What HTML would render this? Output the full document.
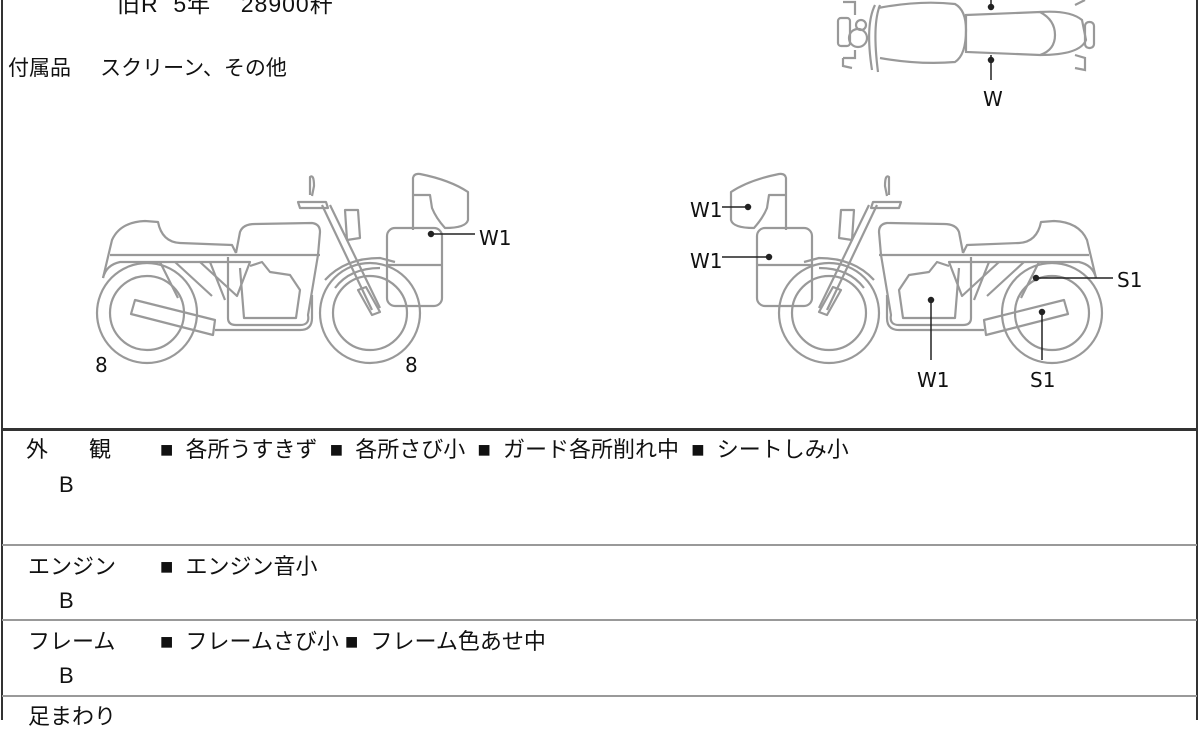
<!DOCTYPE html>
<html><head><meta charset="utf-8"><style>
html,body{margin:0;padding:0;background:#fff;}
body{width:1200px;height:720px;overflow:hidden;position:relative;font-family:"Liberation Sans","Noto Sans CJK JP",sans-serif;color:#111;}
.t{position:absolute;font-size:21px;white-space:nowrap;line-height:1;}
.c{font-size:22px;}
.hl{position:absolute;left:2px;width:1195px;background:#999;height:2px;}
</style></head><body>
<div style="position:absolute;left:1px;top:0;width:2px;height:720px;background:#333"></div>
<div style="position:absolute;left:1196px;top:0;width:2px;height:720px;background:#333"></div>
<div class="hl" style="top:428px;height:3px;background:#333"></div>
<div class="hl" style="top:544px"></div>
<div class="hl" style="top:619px"></div>
<div class="hl" style="top:695px"></div>

<div class="t" style="left:117px;top:-7px;font-size:23px;letter-spacing:1px">旧R&nbsp; 5年&nbsp;&nbsp;&nbsp; 28900粁</div>
<div class="t" style="left:8px;top:58px">付属品&nbsp;&nbsp;&nbsp;&nbsp; スクリーン、その他</div>

<svg width="1200" height="720" style="position:absolute;left:0;top:0" xmlns="http://www.w3.org/2000/svg">
<defs>
<g id="bike" fill="none" stroke="#999" stroke-width="2.2" stroke-linejoin="round">
 <circle cx="147" cy="313" r="50"/><circle cx="147" cy="313" r="37"/>
 <circle cx="370" cy="313" r="50"/><circle cx="370" cy="313" r="37"/>
 <path d="M103 278 L112 240 Q120 222 145 221 L158 222 Q162 242 180 243 L232 245 L236 253"/>
 <path d="M110 255 L320 255"/>
 <path d="M103 278 Q106 265 120 262 L200 262"/>
 <path d="M236 253 L240 232 Q243 224 255 224 L312 223 Q320 224 320 232 L318 255"/>
 <path d="M160 262 L178 298 M175 262 L212 296 M210 262 L225 300 M228 257 L228 318 Q228 325 236 325 L300 325 Q310 325 308 315 L318 255"/>
 <path d="M200 262 L250 262 L237 296 Z"/>
 <path d="M240 268 L244 318 L296 318 L300 290 L290 275 L270 272 L262 262 L250 266"/>
 <path d="M135 300 L215 320 L213 335 L131 314 Z"/>
 <path d="M215 330 L300 330 Q312 330 312 318 L312 295"/>
 <path d="M322 205 L372 310 M330 205 L380 308"/>
 <path d="M358 290 L372 315 L380 312 L366 287 Z"/>
 <path d="M345 210 L358 210 L360 238 L347 240 Z"/>
 <path d="M298 202 L326 202 L328 208 L300 208 Z"/>
 <path d="M310 195 L310 177 Q314 174 314 186 L312 196"/>
 <path d="M325 280 Q345 258 380 258 L395 262 M335 288 Q350 268 380 268"/>
 <rect x="387" y="228" width="55" height="78" rx="8"/>
 <path d="M387 265 L442 265"/>
 <path d="M413 230 L413 178 Q414 173 420 174 Q450 180 468 192 L468 220 Q466 228 445 228 Q436 218 432 208 L430 195 L413 195"/>
</g>
</defs>
<use href="#bike"/>
<use href="#bike" transform="translate(1199,0) scale(-1,1)"/>

<g fill="none" stroke="#999" stroke-width="2.2">
 <path d="M875 5 Q865 25 872 70"/>
 <path d="M880 5 Q872 25 878 72"/>
 <path d="M878 8 Q920 0 955 4 Q966 10 966 30 Q966 55 955 62 Q920 65 880 58"/>
 <path d="M966 15 L1040 12 Q1055 20 1055 35 Q1055 50 1040 55 L966 52 Z"/>
 <path d="M1040 12 Q1070 10 1082 20 L1086 40 Q1080 55 1040 55"/>
 <rect x="1085" y="22" width="9" height="26" rx="4"/>
 <rect x="838" y="18" width="12" height="28" rx="3"/>
 <circle cx="858" cy="38" r="9"/><circle cx="861" cy="25" r="5"/>
 <path d="M843 2 L855 2 L855 15 M843 58 L855 58 L855 50 M843 58 L843 66 L852 68"/>
 <path d="M1075 55 L1085 58 L1085 70 L1075 68 M1075 5 L1085 0"/>
</g>
<g stroke="#222" stroke-width="1.5" fill="#222">
 <line x1="991" y1="55" x2="991" y2="80"/><circle cx="991" cy="60" r="2.5"/><circle cx="991" cy="7" r="2.5"/><line x1="991" y1="0" x2="991" y2="10"/>
 <line x1="430" y1="234" x2="475" y2="234"/><circle cx="431" cy="234" r="2.5"/>
 <line x1="722" y1="207" x2="748" y2="207"/><circle cx="748" cy="207" r="2.5"/>
 <line x1="722" y1="257" x2="769" y2="257"/><circle cx="769" cy="257" r="2.5"/>
 <line x1="1036" y1="278" x2="1113" y2="278"/><circle cx="1036" cy="278" r="2.5"/>
 <line x1="1042" y1="312" x2="1042" y2="360"/><circle cx="1042" cy="312" r="2.5"/>
 <line x1="931" y1="300" x2="931" y2="360"/><circle cx="931" cy="300" r="2.5"/>
</g>
<g font-family="DejaVu Sans, Liberation Sans, sans-serif" font-size="20" fill="#111">
 <text x="983" y="106">W</text>
 <text x="479" y="245">W1</text>
 <text x="690" y="217">W1</text>
 <text x="690" y="268">W1</text>
 <text x="1117" y="287">S1</text>
 <text x="1030" y="387">S1</text>
 <text x="917" y="387">W1</text>
 <text x="95" y="372">8</text>
 <text x="405" y="372">8</text>
</g>
</svg>

<div class="t c" style="left:26px;top:439px">外</div>
<div class="t c" style="left:89px;top:439px">観</div>
<div class="t c" style="left:160px;top:439px">■&nbsp; 各所うすきず&nbsp; ■&nbsp; 各所さび小&nbsp; ■&nbsp; ガード各所削れ中&nbsp; ■&nbsp; シートしみ小</div>
<div class="t c" style="left:59px;top:474px">B</div>
<div class="t c" style="left:28px;top:556px">エンジン</div>
<div class="t c" style="left:160px;top:556px">■&nbsp; エンジン音小</div>
<div class="t c" style="left:59px;top:590px">B</div>
<div class="t c" style="left:28px;top:631px">フレーム</div>
<div class="t c" style="left:160px;top:631px">■&nbsp; フレームさび小 ■&nbsp; フレーム色あせ中</div>
<div class="t c" style="left:59px;top:665px">B</div>
<div class="t c" style="left:28px;top:706px">足まわり</div>
</body></html>
